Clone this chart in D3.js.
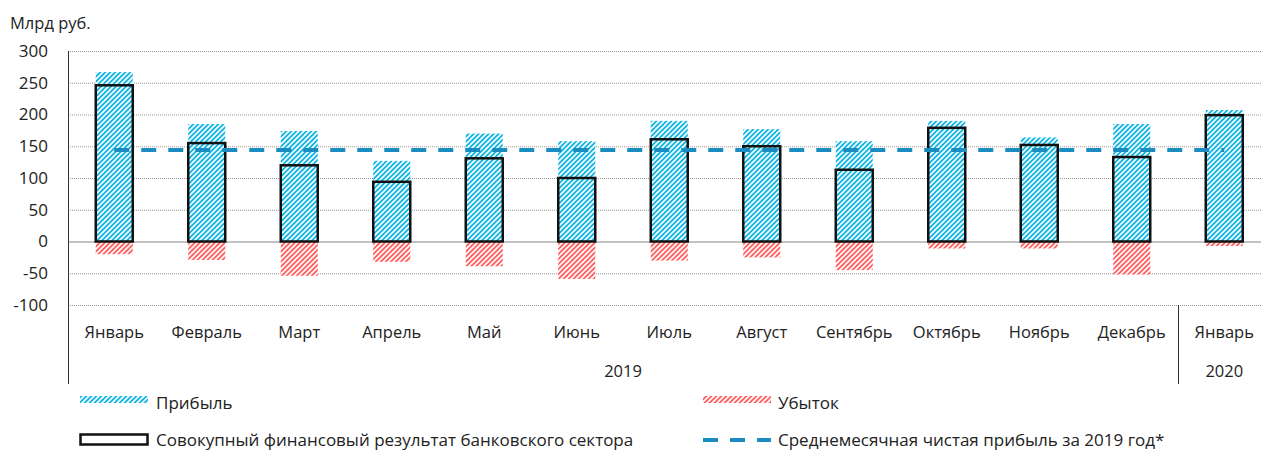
<!DOCTYPE html>
<html>
<head>
<meta charset="utf-8">
<script src="https://cdn.jsdelivr.net/npm/d3@7"></script>
<style>
  body { margin: 0; background: #fff; }
  svg { font-family: "Open Sans", "Noto Sans", sans-serif; }
</style>
</head>
<body>
<svg id="chart" width="1261" height="451"></svg>
<script>
const months = ["Январь", "Февраль", "Март", "Апрель", "Май", "Июнь", "Июль", "Август", "Сентябрь", "Октябрь", "Ноябрь", "Декабрь", "Январь"];
const profit = [267, 185, 174, 127, 170, 158, 190, 177, 158, 190, 164, 185, 207];
const loss = [-20, -29, -54, -32, -39, -59, -30, -25, -45, -11, -11, -52, -7];
const total = [246, 155, 120, 94, 131, 100, 161, 150, 113, 179, 152, 133, 199];
const avgProfit2019 = 144;
const yTicks = [-100, -50, 0, 50, 100, 150, 200, 250, 300];
const years = [{ label: "2019", from: 0, to: 11 }, { label: "2020", from: 12, to: 12 }];

const svg = d3.select("#chart");
const keys = months.map((m, i) => i);

const x = d3.scaleBand().domain(keys).range([68, 1270.5]).paddingInner(0.6).paddingOuter(0.3);
const y = d3.scaleLinear().domain([-100, 300]).range([305, 51]);

const defs = svg.append("defs");
function hatch(id, color) {
    const p = defs.append("pattern").attr("id", id).attr("patternUnits", "userSpaceOnUse")
        .attr("width", 5).attr("height", 5);
    p.append("rect").attr("width", 5).attr("height", 5).attr("fill", color);
    p.append("path").attr("d", "M-1,1 l2,-2 M0,5 l5,-5 M4,6 l2,-2")
        .attr("stroke", "#fff").attr("stroke-width", 1.6);
}
hatch("blueHatch", "#0fb6e3");
hatch("redHatch", "#ff5f5f");

// gridlines
svg.append("g").selectAll("line").data(yTicks).enter().append("line")
    .attr("x1", 68).attr("x2", 1261)
    .attr("y1", d => y(d) + 0.5).attr("y2", d => y(d) + 0.5)
    .attr("stroke", d => d === 0 ? "#888" : "#999")
    .attr("stroke-width", d => d === 0 ? 1.2 : 1)
    .attr("stroke-dasharray", d => d === 0 ? null : "1,1");

// y tick labels
svg.append("g").selectAll("text").data(yTicks).enter().append("text")
    .attr("x", 48).attr("y", d => y(d)).attr("dy", "0.35em")
    .attr("text-anchor", "end").attr("font-size", 17).attr("fill", "#222")
    .text(d => d);

svg.append("text").attr("x", 10).attr("y", 29).attr("font-size", 16.5).attr("fill", "#222").text("Млрд руб.");

// axis lines
svg.append("line").attr("x1", 68.5).attr("x2", 68.5).attr("y1", 51).attr("y2", 384).attr("stroke", "#333").attr("stroke-width", 1);
svg.append("line").attr("x1", x(12) - x.step() * 0.3 + 0.5).attr("x2", x(12) - x.step() * 0.3 + 0.5)
    .attr("y1", 305).attr("y2", 384).attr("stroke", "#333").attr("stroke-width", 1);

// bars
const g = svg.append("g");
g.selectAll("rect.profit").data(keys).enter().append("rect")
    .attr("class", "profit")
    .attr("x", i => x(i)).attr("width", x.bandwidth())
    .attr("y", i => y(profit[i])).attr("height", i => y(0) - y(profit[i]))
    .attr("fill", "url(#blueHatch)");
g.selectAll("rect.loss").data(keys).enter().append("rect")
    .attr("class", "loss")
    .attr("x", i => x(i)).attr("width", x.bandwidth())
    .attr("y", y(0)).attr("height", i => y(loss[i]) - y(0))
    .attr("fill", "url(#redHatch)");
g.selectAll("rect.total").data(keys).enter().append("rect")
    .attr("class", "total")
    .attr("x", i => x(i)).attr("width", x.bandwidth())
    .attr("y", i => y(total[i])).attr("height", i => y(0) - y(total[i]))
    .attr("fill", "none").attr("stroke", "#111").attr("stroke-width", 2.5);

// average line
svg.append("line")
    .attr("x1", x(0) + x.bandwidth() / 2).attr("x2", x(12) + x.bandwidth() / 2)
    .attr("y1", y(avgProfit2019)).attr("y2", y(avgProfit2019))
    .attr("stroke", "#1a8cc0").attr("stroke-width", 4).attr("stroke-dasharray", "15,12");

// month labels
svg.append("g").selectAll("text").data(keys).enter().append("text")
    .attr("x", i => x(i) + x.bandwidth() / 2).attr("y", 338)
    .attr("text-anchor", "middle").attr("font-size", 16.5).attr("fill", "#222")
    .text(i => months[i]);

// year labels
svg.append("g").selectAll("text").data(years).enter().append("text")
    .attr("x", d => (x(d.from) + x(d.to) + x.bandwidth()) / 2).attr("y", 377)
    .attr("text-anchor", "middle").attr("font-size", 16.5).attr("fill", "#222")
    .text(d => d.label);

// legend
const leg = svg.append("g").attr("font-size", 17).attr("fill", "#222");
leg.append("rect").attr("x", 80).attr("y", 396).attr("width", 68).attr("height", 7).attr("fill", "url(#blueHatch)");
leg.append("text").attr("x", 156).attr("y", 409).text("Прибыль");
leg.append("rect").attr("x", 703).attr("y", 396).attr("width", 68).attr("height", 7).attr("fill", "url(#redHatch)");
leg.append("text").attr("x", 778).attr("y", 409).text("Убыток");
leg.append("rect").attr("x", 80.5).attr("y", 434.5).attr("width", 67).attr("height", 10).attr("fill", "none").attr("stroke", "#111").attr("stroke-width", 2.5);
leg.append("text").attr("x", 156).attr("y", 446).text("Совокупный финансовый результат банковского сектора");
leg.append("line").attr("x1", 703).attr("x2", 771).attr("y1", 440).attr("y2", 440)
    .attr("stroke", "#1a8cc0").attr("stroke-width", 4).attr("stroke-dasharray", "15,12");
leg.append("text").attr("x", 778).attr("y", 446).text("Среднемесячная чистая прибыль за 2019 год*");
</script>
</body>
</html>
